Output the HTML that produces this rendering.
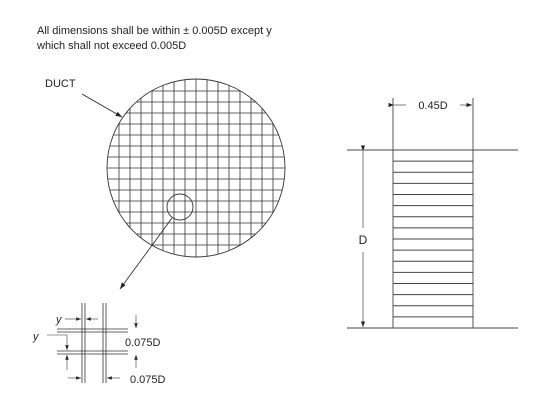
<!DOCTYPE html>
<html><head><meta charset="utf-8"><style>
body{margin:0;background:#fff}
svg{display:block;font-family:"Liberation Sans",sans-serif}
</style></head><body>
<svg width="548" height="404" viewBox="0 0 548 404">
<defs>
<marker id="ah" markerWidth="8" markerHeight="6" refX="8" refY="3" orient="auto"><path d="M0,0 L8,3 L0,6 z" fill="#222"/></marker>
<clipPath id="cc"><circle cx="196" cy="168" r="89"/></clipPath>
</defs>
<text x="37" y="34" font-size="11" fill="#222">All dimensions shall be within ± 0.005D except y</text>
<text x="37" y="49" font-size="11" fill="#222">which shall not exceed 0.005D</text>
<text x="45" y="87" font-size="11" fill="#222">DUCT</text>
<line x1="82" y1="94" x2="122" y2="117" stroke="#222" stroke-width="0.8" marker-end="url(#ah)"/>
<g clip-path="url(#cc)" stroke="#333" stroke-width="0.8" id="grid"></g>
<circle cx="196" cy="168" r="89" fill="none" stroke="#333" stroke-width="0.9"/>
<circle cx="180" cy="207" r="13" fill="none" stroke="#333" stroke-width="0.9"/>
<line x1="172" y1="218" x2="120" y2="289" stroke="#222" stroke-width="0.8" marker-end="url(#ah)"/>
<g stroke="#444" stroke-width="0.9">
<line x1="347" y1="150" x2="518" y2="150"/>
<line x1="347" y1="328" x2="518" y2="328"/>
<line x1="393" y1="98" x2="393" y2="328"/>
<line x1="473" y1="98" x2="473" y2="328"/>
<g id="strips"></g>
<line x1="363" y1="151" x2="363" y2="228" marker-start="url(#ah)" stroke-width="0.7"/>
<line x1="363" y1="252" x2="363" y2="327" marker-end="url(#ah)" stroke-width="0.7"/>
<line x1="394" y1="105" x2="406" y2="105" marker-start="url(#ah)" stroke-width="0.7"/>
<line x1="460" y1="105" x2="472" y2="105" marker-end="url(#ah)" stroke-width="0.7"/>
</g>
<text x="433" y="109" font-size="11" text-anchor="middle" fill="#222">0.45D</text>
<text x="363" y="244" font-size="12" text-anchor="middle" fill="#222">D</text>
<g stroke="#333" stroke-width="0.8">
<line x1="82" y1="303" x2="82" y2="383"/><line x1="85" y1="303" x2="85" y2="383"/>
<line x1="103" y1="303" x2="103" y2="383"/><line x1="106" y1="303" x2="106" y2="383"/>
<line x1="57" y1="329" x2="128" y2="329"/><line x1="57" y1="332" x2="128" y2="332"/>
<line x1="57" y1="351" x2="128" y2="351"/><line x1="57" y1="354" x2="128" y2="354"/>
<line x1="65" y1="319" x2="81" y2="319" marker-end="url(#ah)" stroke-width="0.6"/>
<line x1="98" y1="319" x2="86" y2="319" marker-end="url(#ah)" stroke-width="0.6"/>
<line x1="47" y1="335" x2="67" y2="335" stroke-width="0.6"/>
<line x1="67" y1="335" x2="67" y2="350" marker-end="url(#ah)" stroke-width="0.6"/>
<line x1="67" y1="370" x2="67" y2="355" marker-end="url(#ah)" stroke-width="0.6"/>
<line x1="136" y1="315" x2="136" y2="328" marker-end="url(#ah)" stroke-width="0.6"/>
<line x1="136" y1="368" x2="136" y2="355" marker-end="url(#ah)" stroke-width="0.6"/>
<line x1="68" y1="378" x2="81" y2="378" marker-end="url(#ah)" stroke-width="0.6"/>
<line x1="120" y1="378" x2="107" y2="378" marker-end="url(#ah)" stroke-width="0.6"/>
</g>
<text x="56" y="323" font-size="11" font-style="italic" fill="#222">y</text>
<text x="33" y="340" font-size="11" font-style="italic" fill="#222">y</text>
<text x="125" y="346" font-size="11" fill="#222">0.075D</text>
<text x="130" y="383" font-size="11" fill="#222">0.075D</text>
</svg>
<script>
var ns="http://www.w3.org/2000/svg";
var g=document.getElementById('grid');
for(var i=-7;i<=7;i++){
 var v=document.createElementNS(ns,'line');
 
 
 v.setAttribute('x1',196+i*11);v.setAttribute('x2',196+i*11);v.setAttribute('y1',70);v.setAttribute('y2',270);g.appendChild(v);
 var h=document.createElementNS(ns,'line');
 
 
 h.setAttribute('y1',168+i*11);h.setAttribute('y2',168+i*11);h.setAttribute('x1',100);h.setAttribute('x2',300);g.appendChild(h);
}
var s=document.getElementById('strips');
for(var j=1;j<=15;j++){
 var l=document.createElementNS(ns,'line');
 
 
 var y=150+j*178/16;
 l.setAttribute('x1',393);l.setAttribute('x2',473);l.setAttribute('y1',y);l.setAttribute('y2',y);s.appendChild(l);
}
</script>
</body></html>
